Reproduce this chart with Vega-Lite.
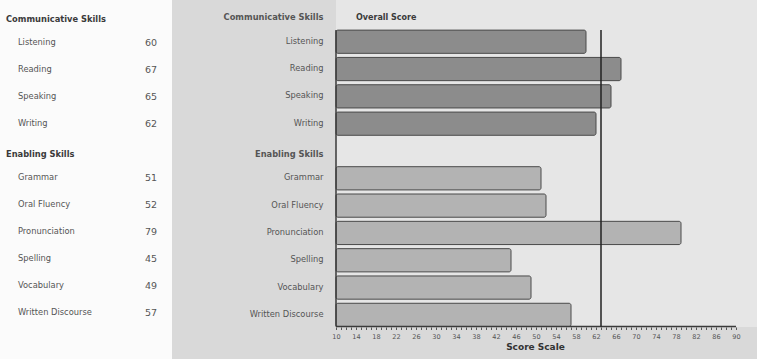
{
  "$schema": "https://vega.github.io/schema/vega-lite/v6.json",
  "padding": 0,
  "background": "#d9d9d9",
  "spacing": 0,
  "config": {"axis": {"labelOverlap": false}},
  "datasets": {
    "skills": [
      {"section": "Communicative Skills", "skill": "Listening", "score": 60},
      {"section": "Communicative Skills", "skill": "Reading", "score": 67},
      {"section": "Communicative Skills", "skill": "Speaking", "score": 65},
      {"section": "Communicative Skills", "skill": "Writing", "score": 62},
      {"section": "Enabling Skills", "skill": "Grammar", "score": 51},
      {"section": "Enabling Skills", "skill": "Oral Fluency", "score": 52},
      {"section": "Enabling Skills", "skill": "Pronunciation", "score": 79},
      {"section": "Enabling Skills", "skill": "Spelling", "score": 45},
      {"section": "Enabling Skills", "skill": "Vocabulary", "score": 49},
      {"section": "Enabling Skills", "skill": "Written Discourse", "score": 57}
    ],
    "overall": [{"label": "Overall Score", "score": 63}]
  },
  "hconcat": [
    {
      "width": 172,
      "height": 359,
      "view": {"fill": "#fbfbfb", "stroke": null},
      "data": {"name": "skills"},
      "layer": [
        {
          "mark": {"type": "text", "align": "left", "baseline": "middle", "font": "DejaVu Sans", "fontSize": 8.3, "color": "#555555"},
          "encoding": {
            "x": {"value": 18},
            "y": {"field": "skill", "type": "nominal", "axis": null,
                  "scale": {"domain": ["Communicative Skills", "Listening", "Reading", "Speaking", "Writing", "Enabling Skills", "Grammar", "Oral Fluency", "Pronunciation", "Spelling", "Vocabulary", "Written Discourse"],
                            "range": [2.8, 326.5], "paddingInner": 0.15, "paddingOuter": 0}},
            "text": {"field": "skill"}
          }
        },
        {
          "mark": {"type": "text", "align": "right", "baseline": "middle", "font": "DejaVu Sans", "fontSize": 9.5, "color": "#555555"},
          "encoding": {
            "x": {"value": 157},
            "y": {"field": "skill", "type": "nominal", "axis": null},
            "text": {"field": "score", "type": "quantitative"}
          }
        },
        {
          "transform": [{"aggregate": [{"op": "count", "as": "n"}], "groupby": ["section"]}],
          "mark": {"type": "text", "align": "left", "baseline": "middle", "dy": 4, "font": "DejaVu Sans", "fontSize": 8.3, "fontWeight": "bold", "color": "#3a3a3a"},
          "encoding": {
            "x": {"value": 6},
            "y": {"field": "section", "type": "nominal", "axis": null},
            "text": {"field": "section"}
          }
        }
      ]
    },
    {
      "width": 421,
      "height": 327,
      "view": {"fill": "#e6e6e6", "stroke": null},
      "layer": [
        {
          "data": {"name": "skills"},
          "mark": {"type": "bar", "stroke": "#4a4a4a", "strokeWidth": 1, "cornerRadius": 2},
          "encoding": {
            "y": {"field": "skill", "type": "nominal", "title": null,
                  "scale": {"domain": ["Communicative Skills", "Listening", "Reading", "Speaking", "Writing", "Enabling Skills", "Grammar", "Oral Fluency", "Pronunciation", "Spelling", "Vocabulary", "Written Discourse"],
                            "range": [2.8, 326.5], "paddingInner": 0.15, "paddingOuter": 0},
                  "axis": {"domain": false, "ticks": false, "labelPadding": 13, "minExtent": 164, "maxExtent": 164,
                           "labelFont": "DejaVu Sans", "labelFontSize": 8.3, "labelColor": "#555555",
                           "labelFontWeight": {"condition": {"test": "datum.value === 'Communicative Skills' || datum.value === 'Enabling Skills'", "value": "bold"}, "value": "normal"},
                           "labelOffset": {"condition": {"test": "datum.value === 'Communicative Skills' || datum.value === 'Enabling Skills'", "value": 4}, "value": 0}}},
            "x": {"field": "score", "type": "quantitative", "title": "Score Scale",
                  "scale": {"domain": [10, 94.2], "nice": false, "zero": false},
                  "axis": {"domain": false, "grid": false, "labelOverlap": false, "labelFlush": false, "tickCount": 200, "format": "d",
                           "values": [10,11,12,13,14,15,16,17,18,19,20,21,22,23,24,25,26,27,28,29,30,31,32,33,34,35,36,37,38,39,40,41,42,43,44,45,46,47,48,49,50,51,52,53,54,55,56,57,58,59,60,61,62,63,64,65,66,67,68,69,70,71,72,73,74,75,76,77,78,79,80,81,82,83,84,85,86,87,88,89,90],
                           "labelExpr": "(datum.value - 10) % 4 === 0 ? datum.label : ''",
                           "tickSize": 2.5, "tickColor": "#555555", "labelFont": "DejaVu Sans", "labelFontSize": 6.5, "labelColor": "#555555", "labelPadding": 3.5,
                           "titleFont": "DejaVu Sans", "titleFontSize": 9, "titleFontWeight": "bold", "titleColor": "#333333", "titlePadding": 3, "titleX": 199}},
            "x2": {"datum": 10},
            "color": {"field": "section", "type": "nominal", "legend": null,
                      "scale": {"domain": ["Communicative Skills", "Enabling Skills"], "range": ["#8c8c8c", "#b3b3b3"]}}
          }
        },
        {
          "data": {"name": "overall"},
          "mark": {"type": "rule", "color": "#3a3a3a", "strokeWidth": 1.5},
          "encoding": {
            "x": {"datum": 10, "type": "quantitative"},
            "y": {"datum": "Listening", "type": "nominal", "bandPosition": 0},
            "y2": {"datum": "Written Discourse", "bandPosition": 1}
          }
        },
        {
          "data": {"name": "overall"},
          "mark": {"type": "rule", "color": "#3a3a3a", "strokeWidth": 1.5},
          "encoding": {
            "x": {"datum": 10, "type": "quantitative"},
            "x2": {"datum": 90},
            "y": {"datum": "Written Discourse", "type": "nominal", "bandPosition": 1}
          }
        },
        {
          "data": {"name": "overall"},
          "mark": {"type": "rule", "color": "#222222", "strokeWidth": 1.5},
          "encoding": {
            "x": {"field": "score", "type": "quantitative"},
            "y": {"datum": "Listening", "type": "nominal", "bandPosition": 0},
            "y2": {"datum": "Written Discourse", "bandPosition": 1}
          }
        },
        {
          "data": {"name": "overall"},
          "mark": {"type": "text", "align": "left", "baseline": "middle", "dx": 20, "dy": 4, "font": "DejaVu Sans", "fontSize": 8, "fontWeight": "bold", "color": "#3a3a3a"},
          "encoding": {
            "x": {"datum": 10, "type": "quantitative"},
            "y": {"datum": "Communicative Skills", "type": "nominal"},
            "text": {"field": "label"}
          }
        }
      ]
    }
  ]
}
